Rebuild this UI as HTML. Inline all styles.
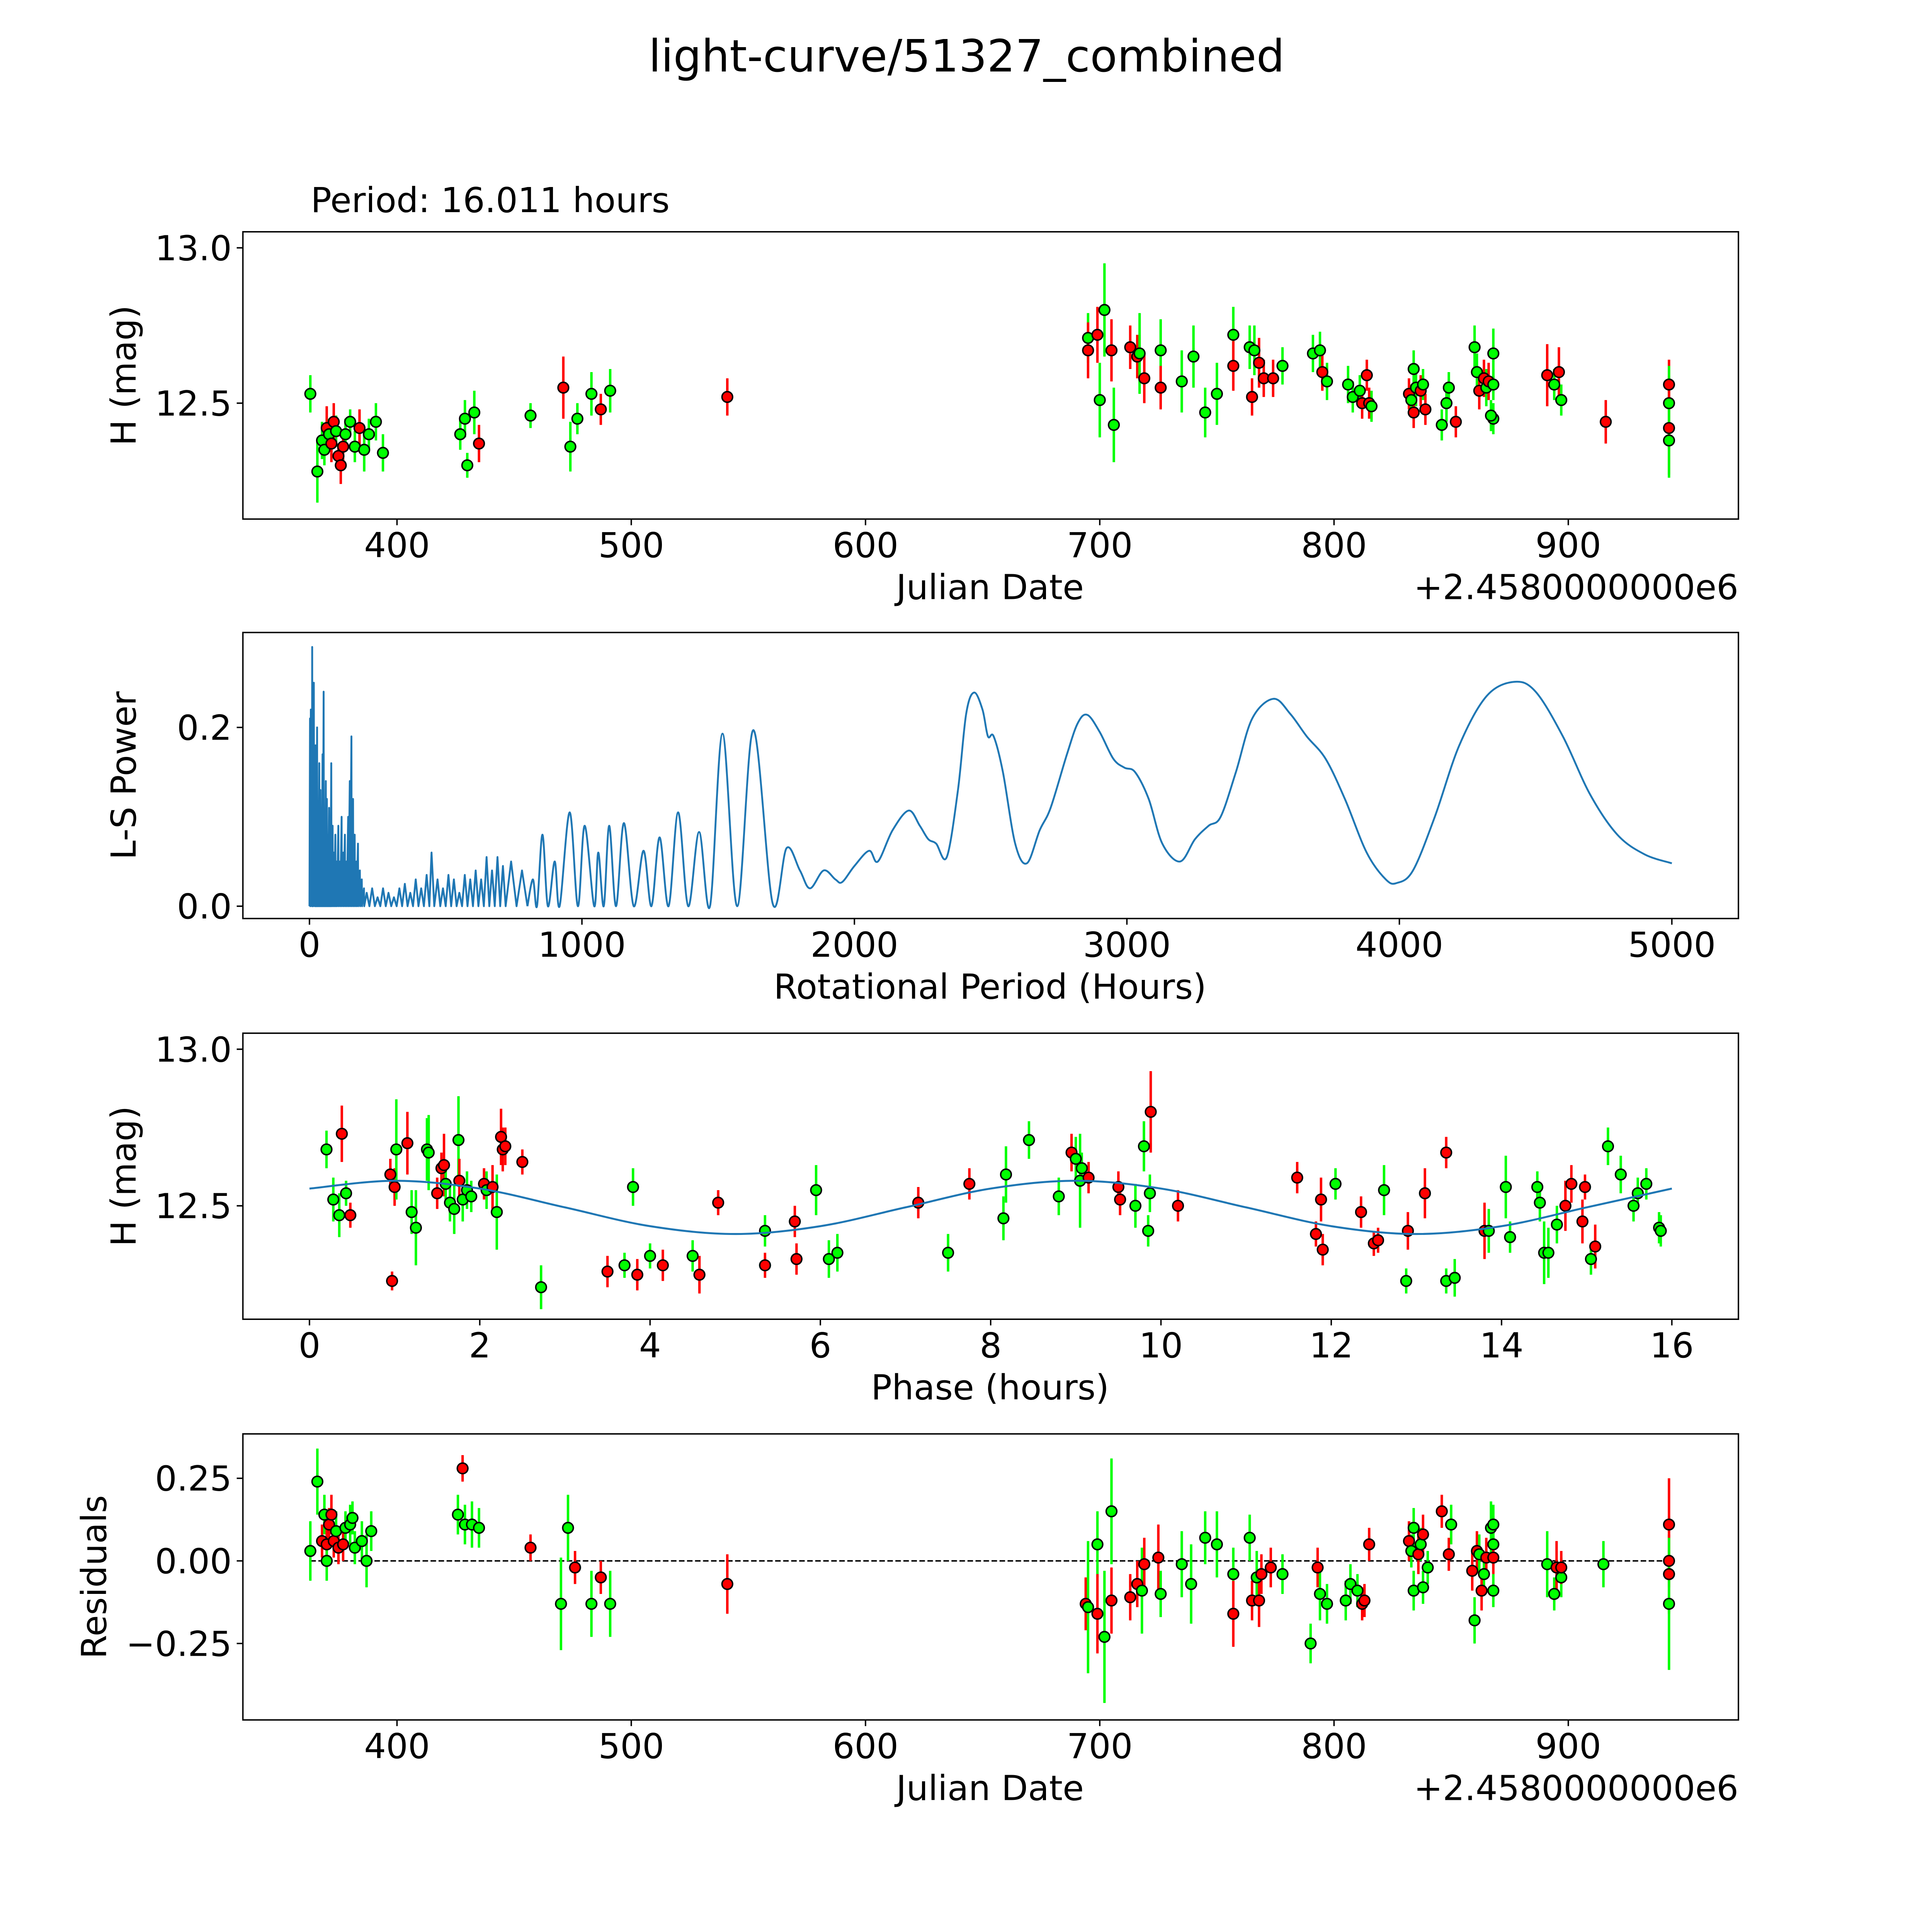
<!DOCTYPE html>
<html><head><meta charset="utf-8"><style>html,body{margin:0;padding:0;background:#fff;overflow:hidden;width:100vw;height:100vh}svg{display:block;width:100vw;height:100vh}</style></head>
<body>
<svg id="fig" xmlns="http://www.w3.org/2000/svg" viewBox="0 0 1567 1567" preserveAspectRatio="xMinYMin meet" font-family="DejaVu Sans, Liberation Sans, sans-serif">
<rect width="1567" height="1567" fill="#fff"/>
<text x="784" y="58" font-size="36" text-anchor="middle">light-curve/51327_combined</text>
<text x="252" y="172" font-size="28">Period: 16.011 hours</text>
<g id="layer"></g>
</svg>
<script>
// ---- Panel 1: light curve (date offset from 2458000, mag, err, color g/r)
const lcDate = [363,366,368,369,370,371,372,373,374,375,376,377,378,380,382,384,386,388,391,394,427,429,430,433,435,457,471,474,477,483,487,491,541,
695,695,699,700,702,705,706,713,716,717,719,726,726,735,740,745,750,757,757,764,765,766,768,770,774,778,791,794,795,797,806,808,811,812,814,815,816,832,833,834,834,835,837,838,839,846,848,849,852,860,861,862,864,865,866,868,868,867,868,891,894,896,897,916,943,943,943,943];
const lcMag = [12.53,12.28,12.38,12.35,12.42,12.40,12.37,12.44,12.41,12.33,12.30,12.36,12.40,12.44,12.36,12.42,12.35,12.40,12.44,12.34,12.40,12.45,12.30,12.47,12.37,12.46,12.55,12.36,12.45,12.53,12.48,12.54,12.52,
12.71,12.67,12.72,12.51,12.80,12.67,12.43,12.68,12.65,12.66,12.58,12.67,12.55,12.57,12.65,12.47,12.53,12.72,12.62,12.68,12.52,12.67,12.63,12.58,12.58,12.62,12.66,12.67,12.60,12.57,12.56,12.52,12.54,12.50,12.59,12.50,12.49,12.53,12.51,12.61,12.47,12.55,12.54,12.56,12.48,12.43,12.50,12.55,12.44,12.68,12.60,12.54,12.58,12.55,12.57,12.66,12.45,12.46,12.56,12.59,12.56,12.60,12.51,12.44,12.56,12.50,12.42,12.38];
const lcErr = [0.06,0.1,0.06,0.05,0.07,0.05,0.06,0.06,0.05,0.04,0.06,0.05,0.05,0.04,0.05,0.06,0.07,0.05,0.06,0.06,0.05,0.06,0.04,0.07,0.06,0.04,0.1,0.08,0.05,0.07,0.05,0.07,0.06,
0.08,0.09,0.09,0.12,0.15,0.1,0.12,0.07,0.07,0.13,0.08,0.1,0.07,0.1,0.1,0.08,0.1,0.09,0.08,0.07,0.06,0.08,0.08,0.06,0.06,0.06,0.06,0.06,0.06,0.06,0.06,0.05,0.05,0.05,0.05,0.05,0.05,0.05,0.05,0.06,0.05,0.06,0.05,0.05,0.05,0.05,0.06,0.05,0.05,0.07,0.06,0.06,0.06,0.06,0.06,0.08,0.05,0.05,0.05,0.1,0.05,0.08,0.05,0.07,0.08,0.12,0.15,0.12];
const lcColor = "ggggrgrrgrrrgggrggggggggrgrgggrgr"+"grrggrgrrgrgrgggggrgrgrrrgggrggggrrrgrggrgrgrgggrggrrgrggggrgrgrrgrgr";
// ---- Panel 2: Lomb-Scargle periodogram
const lsPeriod = [0,2,3,5,6,8,9,10,11,13,14,16,17,19,20,22,23,25,26,28,29,32,33,36,37,40,41,44,45,48,49,52,53,56,57,60,61,64,65,68,69,72,73,76,77,80,81,85,86,90,91,95,96,100,101,106,107,112,113,118,119,124,125,130,131,136,137,142,143,148,149,154,155,160,161,166,167,172,173,178,179,185,186,192,193,200,201,
210,220,230,240,250,260,270,280,290,300,310,320,330,340,350,360,370,380,390,400,410,420,430,440,448,458,470,480,490,500,510,520,530,540,550,560,570,580,590,600,610,620,630,640,650,660,670,680,690,700,710,720,740,760,780];
const lsPower = [0,0.21,0,0.22,0.02,0.18,0,0.29,0,0.2,0,0.25,0.02,0.15,0,0.18,0,0.12,0,0.2,0,0.1,0,0.16,0,0.13,0,0.09,0,0.17,0,0.24,0,0.1,0,0.14,0,0.12,0,0.08,0,0.11,0,0.07,0,0.16,0,0.09,0,0.06,0,0.08,0,0.05,0,0.09,0,0.05,0,0.1,0,0.06,0,0.08,0,0.05,0,0.1,0,0.14,0,0.19,0,0.12,0,0.08,0,0.05,0,0.07,0,0.04,0,0.03,0,0.02,0,
0.015,0,0.02,0,0.01,0,0.02,0,0.015,0,0.01,0,0.02,0,0.025,0,0.015,0,0.03,0,0.02,0,0.035,0,0.06,0,0.03,0,0.02,0,0.035,0,0.03,0,0.015,0,0.035,0,0.03,0,0.04,0,0.03,0,0.055,0,0.04,0,0.055,0,0.045,0,0.05,0,0.04];
const lsSmoothPeriod = [800,820,835,855,875,900,918,955,985,1010,1045,1060,1080,1100,1125,1154,1190,1226,1255,1285,1318,1353,1390,1430,1470,1516,1570,1629,1700,1751,1800,1837,1887,1930,1955,2000,2054,2086,2140,2199,2240,2271,2300,2339,2380,2410,2439,2470,2490,2511,2545,2590,2633,2680,2720,2780,2820,2855,2900,2950,2991,3030,3080,3130,3195,3250,3300,3344,3400,3460,3538,3600,3660,3729,3800,3880,3950,3991,4050,4130,4220,4320,4421,4500,4600,4700,4800,4900,5000];
const lsSmoothPower = [0,0.03,0,0.08,0,0.05,0,0.105,0,0.09,0,0.06,0,0.09,0,0.093,0,0.062,0,0.077,0,0.105,0,0.083,0,0.193,0,0.197,0.003,0.065,0.04,0.02,0.04,0.03,0.027,0.045,0.062,0.05,0.085,0.107,0.09,0.075,0.07,0.055,0.13,0.215,0.239,0.22,0.19,0.19,0.15,0.07,0.048,0.085,0.11,0.17,0.205,0.214,0.195,0.165,0.155,0.15,0.12,0.07,0.05,0.075,0.09,0.1,0.15,0.21,0.232,0.215,0.19,0.165,0.12,0.06,0.03,0.026,0.04,0.1,0.18,0.235,0.251,0.24,0.19,0.125,0.08,0.058,0.048];
// ---- Panel 3: folded phase
const phPhase = [0.2,0.28,0.35,0.38,0.43,0.48,0.95,0.97,1.0,1.02,1.15,1.2,1.25,1.38,1.4,1.5,1.55,1.58,1.6,1.65,1.7,1.75,1.76,1.8,1.85,1.9,2.05,2.08,2.15,2.2,2.25,2.27,2.3,2.5,2.72,3.5,3.7,3.8,3.85,4.0,4.15,4.5,4.58,4.8,5.35,5.35,5.7,5.72,5.95,6.1,6.2,7.15,7.5,7.75,8.15,8.18,8.45,8.8,8.95,9.0,9.05,9.07,9.15,9.5,9.52,9.7,9.8,9.85,9.87,9.88,10.2,11.6,11.82,11.88,11.9,12.05,12.35,12.5,12.55,12.62,12.88,12.9,13.1,13.35,13.35,13.45,13.8,13.85,14.05,14.1,14.42,14.45,14.5,14.55,14.65,14.75,14.82,14.95,14.98,15.05,15.1,15.25,15.4,15.55,15.6,15.7,15.85,15.87];
const phMag = [12.68,12.52,12.47,12.73,12.54,12.47,12.6,12.26,12.56,12.68,12.7,12.48,12.43,12.68,12.67,12.54,12.62,12.63,12.57,12.51,12.49,12.71,12.58,12.52,12.55,12.53,12.57,12.55,12.56,12.48,12.72,12.68,12.69,12.64,12.24,12.29,12.31,12.56,12.28,12.34,12.31,12.34,12.28,12.51,12.42,12.31,12.45,12.33,12.55,12.33,12.35,12.51,12.35,12.57,12.46,12.6,12.71,12.53,12.67,12.65,12.58,12.62,12.59,12.56,12.52,12.5,12.69,12.42,12.54,12.8,12.5,12.59,12.41,12.52,12.36,12.57,12.48,12.38,12.39,12.55,12.26,12.42,12.54,12.26,12.67,12.27,12.42,12.42,12.56,12.4,12.56,12.51,12.35,12.35,12.44,12.5,12.57,12.45,12.56,12.33,12.37,12.69,12.6,12.5,12.54,12.57,12.43,12.42];
const phErr = [0.06,0.07,0.07,0.09,0.04,0.04,0.05,0.03,0.06,0.16,0.1,0.07,0.12,0.1,0.12,0.05,0.05,0.1,0.05,0.06,0.08,0.14,0.07,0.07,0.06,0.05,0.05,0.06,0.07,0.12,0.09,0.07,0.06,0.04,0.07,0.05,0.04,0.06,0.05,0.04,0.05,0.05,0.06,0.04,0.05,0.04,0.05,0.05,0.08,0.06,0.06,0.05,0.06,0.05,0.07,0.09,0.06,0.06,0.06,0.07,0.15,0.05,0.05,0.05,0.05,0.07,0.08,0.05,0.06,0.13,0.05,0.05,0.04,0.07,0.05,0.05,0.05,0.04,0.04,0.08,0.04,0.06,0.08,0.04,0.05,0.06,0.09,0.07,0.1,0.05,0.05,0.06,0.1,0.08,0.06,0.08,0.06,0.07,0.04,0.05,0.07,0.06,0.06,0.05,0.05,0.05,0.05,0.05];
const phColor = "gggrgrrrrgrggggrrrggggrgggrgrgrrrrgrggrgrgrrgrrrgggrgrggggrgggrrrggggrrrrrrgrrrggrrgrgrggggggggrrrrgrgggggggg";
const fitPhase = [0,1,2,3,4,5,6,7,8,9,10,11,12,13,14,15,16];
const fitMag = [12.555,12.58,12.555,12.495,12.435,12.41,12.435,12.495,12.555,12.58,12.555,12.495,12.435,12.41,12.435,12.495,12.555];
// ---- Panel 4: residuals
const resDate = [363,366,368,369,370,370,371,372,373,374,375,377,378,380,381,382,385,387,389,426,428,429,432,435,457,470,473,476,483,487,491,541,
694,695,699,699,702,705,705,713,716,718,719,725,726,735,739,745,750,757,757,764,765,767,768,769,773,778,790,793,794,797,805,807,810,812,813,815,832,833,834,834,836,837,838,838,840,846,850,849,859,860,861,862,864,863,865,867,868,868,868,868,891,894,895,897,897,915,943,943,943,943];
const resVal = [0.03,0.24,0.06,0.14,0.05,0.0,0.11,0.14,0.06,0.09,0.04,0.05,0.1,0.11,0.13,0.04,0.06,0.0,0.09,0.14,0.28,0.11,0.11,0.1,0.04,-0.13,0.1,-0.02,-0.13,-0.05,-0.13,-0.07,
-0.13,-0.14,0.05,-0.16,-0.23,0.15,-0.12,-0.11,-0.07,-0.09,-0.01,0.01,-0.1,-0.01,-0.07,0.07,0.05,-0.04,-0.16,0.07,-0.12,-0.05,-0.12,-0.04,-0.02,-0.04,-0.25,-0.02,-0.1,-0.13,-0.12,-0.07,-0.09,-0.13,-0.12,0.05,0.06,0.03,0.1,-0.09,0.02,0.05,-0.08,0.08,-0.02,0.15,0.11,0.02,-0.03,-0.18,0.03,0.02,-0.04,-0.09,0.01,0.1,0.05,0.11,0.01,-0.09,-0.01,-0.1,-0.02,-0.05,-0.02,-0.01,0.11,0.0,-0.04,-0.13];
const resErr = [0.09,0.1,0.05,0.06,0.05,0.06,0.05,0.06,0.05,0.06,0.05,0.05,0.05,0.06,0.05,0.05,0.06,0.08,0.06,0.06,0.04,0.06,0.07,0.06,0.04,0.14,0.1,0.05,0.1,0.05,0.1,0.09,
0.08,0.2,0.1,0.12,0.2,0.16,0.1,0.07,0.07,0.13,0.08,0.1,0.07,0.1,0.12,0.08,0.1,0.08,0.1,0.07,0.06,0.08,0.08,0.06,0.06,0.06,0.06,0.06,0.08,0.06,0.06,0.06,0.05,0.05,0.05,0.05,0.06,0.05,0.06,0.06,0.06,0.05,0.05,0.06,0.05,0.05,0.06,0.05,0.06,0.07,0.06,0.06,0.06,0.06,0.06,0.08,0.05,0.06,0.05,0.05,0.1,0.05,0.08,0.06,0.05,0.07,0.14,0.08,0.12,0.2];
const resColor = "ggrgrgrrrgrrggggggggrgggrggrgrgr"+"rggrggrrrgrrggggggrgrgrrrggrgggggrrrrgggrggrgrgrrgrggrrgggrgggrgrgrrrggr";
const dateTicks = [400,500,600,700,800,900];
const lsTicks = [0,1000,2000,3000,4000,5000];
const phTicks = [0,2,4,6,8,10,12,14,16];

const NS="http://www.w3.org/2000/svg";
const layer=document.getElementById('layer');
function mk(tag,attrs,parent){const e=document.createElementNS(NS,tag);for(const k in attrs)e.setAttribute(k,attrs[k]);(parent||layer).appendChild(e);return e;}
const L=197,R=1410;
const dateX=d=>322+(d-400)*1.9;
const lsX=p=>251+p*0.221;
const phX=p=>251+p*69.0625;
const p1Y=m=>327-(m-12.5)*252;
const p2Y=v=>735-v*725;
const p3Y=m=>978-(m-12.5)*254;
const p4Y=v=>1266-v*268;

function panel(name,top,bot,xt,xf,xl,yt,yf,yl,ylab,xlab,offset){
  const g=mk('g',{});
  
  
  const f=mk('rect',{x:L,y:top,width:R-L,height:bot-top,fill:'none',stroke:'#000','stroke-width':1.15},g);
  
  
  xt.forEach((t,i)=>{const x=xf(t);
    mk('line',{x1:x,x2:x,y1:bot,y2:bot+5,stroke:'#000','stroke-width':1.15},g);
    const tx=mk('text',{x:x,y:bot+31,'font-size':28,'text-anchor':'middle'},g);
    
    
    tx.textContent=xl[i];});
  yt.forEach((t,i)=>{const y=yf(t);
    mk('line',{x1:L-5,x2:L,y1:y,y2:y,stroke:'#000','stroke-width':1.15},g);
    const tx=mk('text',{x:L-9,y:y+10,'font-size':28,'text-anchor':'end'},g);
    
    
    tx.textContent=yl[i];});
  const yc=(top+bot)/2;
  const yx=name==='residuals'?86:110;
  const yla=mk('text',{x:yx,y:yc,'font-size':28,'text-anchor':'middle',transform:`rotate(-90 ${yx} ${yc})`},g);
  
  
  yla.textContent=ylab;
  const xla=mk('text',{x:803,y:bot+65,'font-size':28,'text-anchor':'middle'},g);
  
  
  xla.textContent=xlab;
  if(offset){const o=mk('text',{x:R,y:bot+65,'font-size':28,'text-anchor':'end'},g);
    
    
    o.textContent='+2.4580000000e6';}
}
function points(name,xs,ys,es,cs,xf,yf){
  const g=mk('g',{});
  
  
  xs.forEach((xv,i)=>{const col=cs[i]==='r'?'#ff0000':'#00ff00';const x=xf(xv);
    const l=mk('line',{x1:x,x2:x,y1:yf(ys[i]-es[i]),y2:yf(ys[i]+es[i]),stroke:col,'stroke-width':2},g);
    
    });
  xs.forEach((xv,i)=>{const col=cs[i]==='r'?'#ff0000':'#00ff00';
    const c=mk('circle',{cx:xf(xv),cy:yf(ys[i]),r:4.3,fill:col,stroke:'#000','stroke-width':1.2},g);
    
    });
}
function spline(pts){let d=`M${pts[0][0]},${pts[0][1]}`;
  for(let i=0;i<pts.length-1;i++){const p0=pts[Math.max(0,i-1)],p1=pts[i],p2=pts[i+1],p3=pts[Math.min(pts.length-1,i+2)];
    d+=` C${p1[0]+(p2[0]-p0[0])/6},${p1[1]+(p2[1]-p0[1])/6} ${p2[0]-(p3[0]-p1[0])/6},${p2[1]-(p3[1]-p1[1])/6} ${p2[0]},${p2[1]}`;}
  return d;}

// Panel 1
panel('lightcurve',188,421,dateTicks,dateX,dateTicks.map(String),[12.5,13.0],p1Y,['12.5','13.0'],'H (mag)','Julian Date',true);
points('lightcurve',lcDate,lcMag,lcErr,lcColor,dateX,p1Y);
// Panel 2
panel('periodogram',513,745,lsTicks,lsX,lsTicks.map(String),[0,0.2],p2Y,['0.0','0.2'],'L-S Power','Rotational Period (Hours)',false);
const raw=lsPeriod.map((p,i)=>`${lsX(p)},${p2Y(lsPower[i])}`).join(' ');
const pl=mk('polyline',{points:raw+` ${lsX(800)},${p2Y(0)}`,fill:'none',stroke:'#1f77b4','stroke-width':1.5,'stroke-linejoin':'round'});


const sp=mk('path',{d:spline(lsSmoothPeriod.map((p,i)=>[lsX(p),p2Y(lsSmoothPower[i])])),fill:'none',stroke:'#1f77b4','stroke-width':1.5});


// Panel 3
panel('phase',838,1070,phTicks,phX,phTicks.map(String),[12.5,13.0],p3Y,['12.5','13.0'],'H (mag)','Phase (hours)',false);
points('phase',phPhase,phMag,phErr,phColor,phX,p3Y);
const fp=mk('path',{d:spline(fitPhase.map((p,i)=>[phX(p),p3Y(fitMag[i])])),fill:'none',stroke:'#1f77b4','stroke-width':1.6});


// Panel 4
panel('residuals',1163,1395,dateTicks,dateX,dateTicks.map(String),[-0.25,0,0.25],p4Y,['\u22120.25','0.00','0.25'],'Residuals','Julian Date',true);
const zl=mk('line',{x1:dateX(Math.min(...resDate)),x2:dateX(Math.max(...resDate)),y1:p4Y(0),y2:p4Y(0),stroke:'#000','stroke-width':1.2,'stroke-dasharray':'4.5,2'});


points('residuals',resDate,resVal,resErr,resColor,dateX,p4Y);
</script>
</body></html>
